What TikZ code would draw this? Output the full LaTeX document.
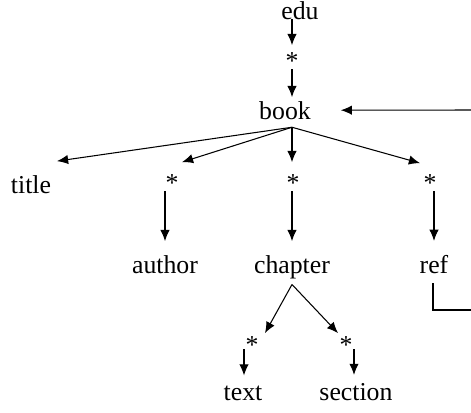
\documentclass[tikz,border=0pt]{standalone}
\usepackage{fontspec}
\setmainfont{Liberation Serif}
\usetikzlibrary{arrows.meta,calc}

\begin{document}
\begin{tikzpicture}[x=0.03cm,y=-0.03cm]
    \tikzset{
        word/.style={anchor=base,inner sep=0pt,outer sep=0pt,font=\fontsize{22}{26}\selectfont},
        arr/.style={-{Latex[length=9.5pt,width=8pt]},line width=0.9pt}
    }
    \useasboundingbox (0,0) rectangle (471,412);

    % Place the element names and wildcards
    \node[word] (edu) at (300,19) {edu};
    \node[word] (s0) at (292,69) {*};
    \node[word] (book) at (285,119) {book};
    \node[word] (title) at (31,193) {title};
    \node[word] (s1) at (172,191) {*};
    \node[word] (s2) at (293,191) {*};
    \node[word] (s3) at (430,191) {*};
    \node[word] (author) at (165,273) {author};
    \node[word] (chapter) at (292,273) {chapter};
    \node[word] (ref) at (434,273) {ref};
    \node[word] (s4) at (252,353) {*};
    \node[word] (s5) at (346,353) {*};
    \node[word] (text) at (243,400) {text};
    \node[word] (section) at (356,400) {section};

    % Open ends of the ref link at the right margin
    \coordinate (loopout) at (471,310);
    \coordinate (loopin) at (471,110);

    % Draw the edges of the tree
    \draw[arr] (edu.south -| s0) -- ($(s0.north)+(0,-7)$);
    \draw[arr] (s0.south) -- ($(s0.south |- book.north)+(0,-4)$);
    \draw[arr] ($(book.south -| s0)+(0,8)$) -- ($(title.north)+(26,-14)$);
    \draw[arr] ($(book.south -| s0)+(0,8)$) -- ($(s1.north)+(10,-12)$);
    \draw[arr] ($(book.south -| s0)+(0,8)$) -- ($(s0 |- s2.north)+(0,-12)$);
    \draw[arr] ($(book.south -| s0)+(0,8)$) -- ($(s3.north)+(-10,-11)$);
    \draw[arr] (s1.south -| author) -- ($(author.north)+(0,-14)$);
    \draw[arr] (s2.south -| s0) -- ($(s0 |- chapter.north)+(0,-14)$);
    \draw[arr] (s3.south -| ref) -- ($(ref.north)+(0,-14)$);
    \draw[arr] ($(chapter.south -| s0)+(0,6)$) -- ($(s4.north)+(13,-3)$);
    \draw[arr] ($(chapter.south -| s0)+(0,6)$) -- ($(s5.north)+(-8,-3)$);
    \draw[arr] ($(s4.south)+(-8,-4)$) -- ($(text.north)+(1,-10)$);
    \draw[arr] ($(s5.south)+(8,-4)$) -- ($(section.north)+(-2,-8)$);

    % Draw the link from ref back to book
    \draw[line width=0.9pt] ($(ref.south)+(-1,10)$) |- (loopout);
    \draw[arr] (loopin) -- ($(book.east)+(30,0)$);
\end{tikzpicture}
\end{document}
